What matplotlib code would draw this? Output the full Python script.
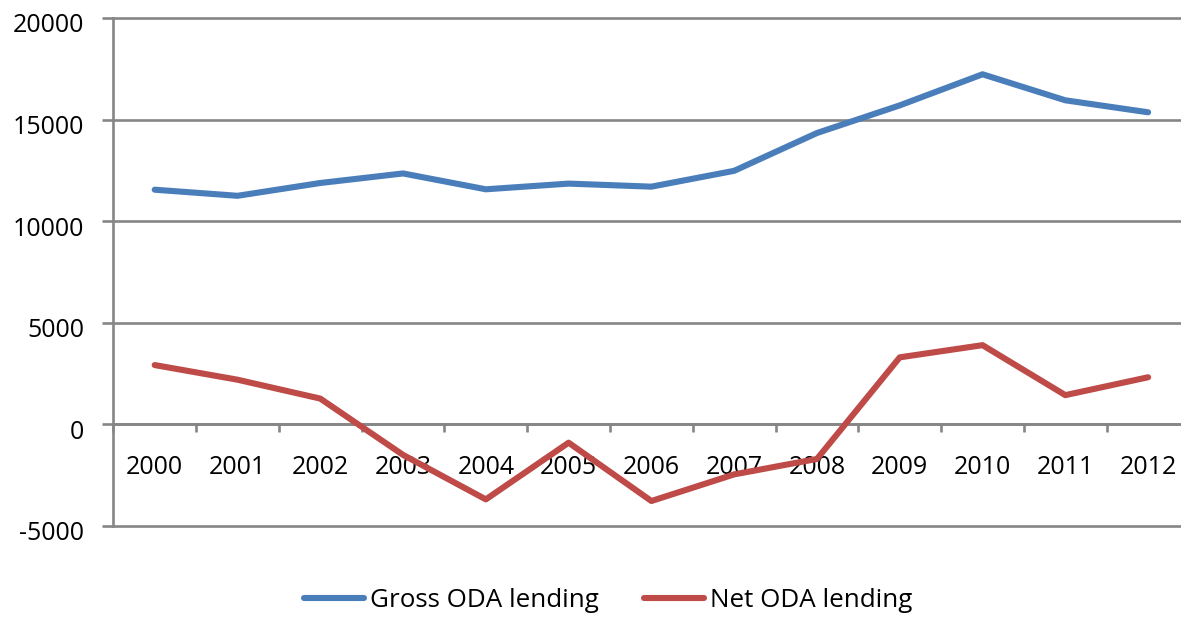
import matplotlib
matplotlib.use("Agg")
import matplotlib.pyplot as plt
import matplotlib.transforms as mtransforms

years = ["2000", "2001", "2002", "2003", "2004", "2005", "2006",
         "2007", "2008", "2009", "2010", "2011", "2012"]
gross_oda = [11550, 11250, 11880, 12350, 11570, 11850, 11700,
             12480, 14340, 15700, 17230, 15950, 15360]
net_oda = [2920, 2200, 1270, -1500, -3690, -900, -3770,
           -2460, -1700, 3300, 3900, 1440, 2320]
y_ticks = [-5000, 0, 5000, 10000, 15000, 20000]

plt.rcParams['font.family'] = ['Open Sans', 'DejaVu Sans']
FS = 18
GRAY = '#868686'
LW_AX = 1.9

fig = plt.figure(figsize=(11.81, 6.17), dpi=100)
W, H = 1181, 617
left, right, top, bottom = 113.3, 1189.5, 18, 526
ax = fig.add_axes([left / W, (H - bottom) / H, (right - left) / W, (bottom - top) / H])

x = list(range(len(years)))
ax.plot(x, gross_oda, color='#4A7EBB', lw=4.4, solid_capstyle='round',
        solid_joinstyle='round', label='Gross ODA lending', zorder=3)
ax.plot(x, net_oda, color='#BE4B48', lw=4.4, solid_capstyle='round',
        solid_joinstyle='round', label='Net ODA lending', zorder=3)

ax.set_xlim(-0.5, len(years) - 0.5)
ax.set_ylim(y_ticks[0], y_ticks[-1])

# y axis
ax.set_yticks(y_ticks)
ax.set_yticklabels([str(v) for v in y_ticks])
ax.tick_params(axis='y', direction='out', length=7.9, width=LW_AX, color=GRAY,
               pad=13.0, labelsize=FS, labelcolor='black')
ax.yaxis.grid(True, color=GRAY, lw=LW_AX)
for gl in ax.get_ygridlines():
    gl.set_clip_on(False)
off = mtransforms.ScaledTranslation(0, -5 / 100, fig.dpi_scale_trans)
for lab in ax.get_yticklabels():
    lab.set_transform(lab.get_transform() + off)

# x axis
ax.set_xticks(x)
ax.set_xticklabels(years)
ax.set_xticks([i - 0.5 for i in range(len(years) + 1)], minor=True)
ax.tick_params(axis='x', which='major', length=0, pad=22, labelsize=FS, labelcolor='black')
ax.tick_params(axis='x', which='minor', direction='out', length=5.8, width=LW_AX, color=GRAY)

ax.spines['bottom'].set_position(('data', 0))
ax.spines['bottom'].set_color(GRAY)
ax.spines['bottom'].set_linewidth(LW_AX)
ax.spines['left'].set_color(GRAY)
ax.spines['left'].set_linewidth(LW_AX)
ax.spines['top'].set_visible(False)
ax.spines['right'].set_visible(False)
ax.set_axisbelow(True)

fig.legend(loc='center', bbox_to_anchor=(0.515, 0.026), ncol=2, frameon=False,
           fontsize=18.7, handlelength=2.3, handletextpad=0.22, columnspacing=1.75)

fig.savefig('out.png', dpi=100)
